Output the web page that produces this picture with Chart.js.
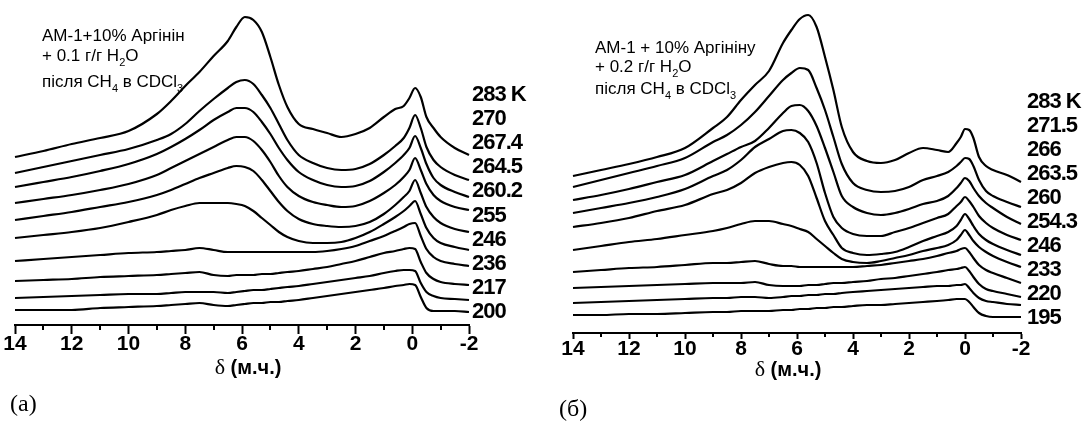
<!DOCTYPE html>
<html>
<head>
<meta charset="utf-8">
<script src="https://cdn.jsdelivr.net/npm/chart.js@4"></script>
<style>
  body { margin: 0; background: #fff; }
  #wrap { position: relative; width: 1082px; height: 421px; }
  #chartA { position: absolute; left: 0; top: 0; }
  #chartB { position: absolute; left: 541px; top: 0; }
</style>
</head>
<body>
<div id="wrap">
  <canvas id="chartA" width="541" height="421"></canvas>
  <canvas id="chartB" width="541" height="421"></canvas>
</div>
<script>
// ---- panel (а): АМ-1 + 10% аргінін + 0.1 г/г H2O ----
const ppmA = [14, 13, 12, 11, 10, 9, 8.5, 8, 7.5, 7, 6.5, 6.2, 5.9, 5.6, 5.3, 5, 4.7, 4.4, 4, 3.5,
  3, 2.5, 2, 1.5, 1, 0.6, 0.3, 0.1, -0.1, -0.3, -0.5, -0.75, -1, -1.5, -2];
const tempsA = ["283 K", "270", "267.4", "264.5", "260.2", "255", "246", "236", "217", "200"];

// stacked spectra, intensity in arbitrary units (offset included)
const a283 = [168, 174, 181, 187, 194, 211, 224, 239, 253, 269, 284, 298, 308, 305, 293, 268, 240, 218, 201, 196,
  192, 188, 191, 197, 208, 216, 219, 227, 237, 228, 208, 197, 188, 177, 170];
const a270 = [152, 158, 164, 170, 176, 185, 191, 201, 214, 226, 237, 243, 245, 241, 230, 217, 201, 185, 170, 162,
  157, 155, 156, 161, 170, 179, 187, 197, 210, 197, 178, 165, 158, 150, 145];
const a267 = [138, 143, 148, 154, 161, 171, 178, 186, 195, 205, 213, 217, 217, 213, 203, 191, 177, 165, 153, 145,
  140, 138, 139, 144, 153, 162, 170, 177, 189, 177, 161, 147, 140, 133, 128];
const a264 = [122, 126, 130, 135, 141, 150, 157, 164, 171, 178, 185, 188, 188, 184, 175, 163, 149, 138, 129, 123,
  120, 118, 119, 124, 132, 140, 148, 155, 167, 155, 141, 130, 124, 118, 115];
const a260 = [105, 109, 113, 118, 123, 130, 135, 141, 147, 152, 157, 159, 158, 154, 145, 134, 123, 114, 106, 101,
  99, 98, 99, 103, 111, 120, 128, 134, 145, 132, 118, 108, 102, 96, 93];
const a255 = [87, 90, 93, 97, 103, 110, 115, 119, 122, 122, 122, 121, 119, 114, 107, 100, 93, 88, 84, 82,
  82, 83, 87, 93, 101, 108, 114, 119, 124, 111, 97, 87, 82, 78, 75];
const a246 = [64, 66, 68, 70, 72, 73, 74, 75, 77, 75, 73, 73, 73, 73, 73, 73, 73, 73, 73, 73,
  74, 76, 79, 84, 89, 94, 98, 101, 102, 89, 76, 68, 64, 61, 59];
const a236 = [44, 45, 46, 48, 49, 50, 51, 52, 53, 50, 49, 50, 50, 50, 51, 51, 52, 53, 54, 56,
  58, 61, 64, 68, 72, 74, 76, 77, 76, 63, 52, 46, 43, 41, 40];
const a217 = [27, 28, 29, 30, 31, 31, 32, 33, 33, 33, 32, 33, 34, 35, 35, 36, 37, 38, 39, 41,
  43, 45, 47, 49, 52, 54, 55, 55, 54, 42, 33, 29, 27, 26, 25];
const a200 = [15, 15, 15, 17, 18, 19, 20, 21, 22, 20, 19, 20, 21, 22, 22, 23, 23, 24, 25, 27,
  29, 31, 33, 35, 37, 39, 40, 41, 40, 28, 17, 14, 14, 14, 13];

// ---- panel (б): АМ-1 + 10% аргініну + 0.2 г/г H2O ----
const ppmB = [14, 13, 12, 11, 10, 9, 8.5, 8, 7.5, 7, 6.5, 6.2, 5.9, 5.6, 5.3, 5, 4.7, 4.4, 4, 3.5,
  3, 2.5, 2, 1.5, 1, 0.6, 0.3, 0.15, 0, -0.15, -0.3, -0.5, -0.75, -1, -1.5, -2];
const tempsB = ["283 K", "271.5", "266", "263.5", "260", "254.3", "246", "233", "220", "195"];

const b283 = [157, 163, 169, 176, 185, 205, 216, 233, 248, 262, 290, 303, 314, 318, 306, 276, 243, 206, 181, 172,
  170, 173, 180, 185, 183, 181, 190, 196, 204, 203, 195, 176, 167, 163, 158, 151];
const b271 = [146, 153, 160, 167, 175, 191, 198, 208, 221, 237, 253, 260, 265, 263, 245, 223, 196, 169, 150, 143,
  141, 142, 146, 153, 157, 161, 167, 171, 175, 174, 167, 153, 142, 137, 131, 126];
const b266 = [133, 138, 144, 151, 158, 172, 179, 186, 192, 205, 220, 227, 228, 222, 207, 185, 161, 137, 126, 120,
  118, 120, 124, 129, 132, 137, 145, 150, 155, 152, 145, 137, 130, 125, 116, 109];
const b263 = [120, 125, 130, 136, 144, 157, 163, 173, 186, 194, 202, 203, 200, 191, 170, 140, 116, 105, 99, 97,
  97, 101, 105, 110, 115, 119, 127, 131, 136, 132, 126, 117, 110, 105, 98, 93];
const b260 = [106, 110, 115, 122, 128, 139, 143, 150, 160, 166, 170, 171, 168, 157, 135, 112, 98, 85, 80, 78,
  79, 81, 86, 92, 97, 101, 107, 113, 119, 114, 107, 99, 93, 89, 83, 78];
const b254 = [83, 87, 91, 94, 98, 102, 105, 109, 112, 112, 109, 107, 104, 101, 94, 87, 80, 74, 71, 70,
  72, 75, 78, 82, 85, 88, 93, 98, 103, 98, 92, 86, 81, 77, 71, 66];
const b246 = [61, 63, 65, 66, 68, 70, 70, 71, 72, 69, 67, 67, 66, 66, 66, 66, 66, 66, 66, 67,
  68, 70, 72, 74, 77, 80, 82, 84, 85, 81, 75, 68, 63, 60, 55, 50];
const b233 = [45, 46, 47, 48, 49, 50, 50, 50, 51, 48, 47, 47, 47, 48, 48, 49, 50, 50, 51, 52,
  54, 55, 57, 59, 61, 63, 64, 65, 66, 62, 56, 49, 44, 42, 39, 36];
const b220 = [30, 31, 32, 33, 34, 35, 35, 36, 36, 35, 36, 37, 37, 38, 38, 39, 39, 40, 41, 42,
  43, 44, 45, 46, 47, 47, 48, 48, 49, 45, 40, 35, 32, 31, 29, 28];
const b195 = [18, 18, 19, 19, 20, 21, 21, 22, 22, 22, 23, 23, 24, 24, 25, 25, 26, 26, 27, 28,
  28, 29, 30, 31, 32, 33, 34, 34, 34, 31, 26, 20, 17, 16, 16, 16];

const SANS = '"Liberation Sans", Arial, sans-serif';
const SERIF = '"Liberation Serif", "Times New Roman", serif';

// text with subscripts: parts = [[text, isSub], ...]
function drawRich(ctx, parts, x, y, size) {
  for (const [txt, sub] of parts) {
    ctx.font = (sub ? Math.round(size * 0.65) : size) + 'px ' + SANS;
    ctx.fillText(txt, x, sub ? y + size * 0.3 : y);
    x += ctx.measureText(txt).width;
  }
}

// labels, minor ticks and axis caption
const panelText = {
  id: 'panelText',
  afterDraw(chart, args, o) {
    const ctx = chart.ctx;
    const xs = chart.scales.x;
    ctx.save();
    ctx.fillStyle = '#000';
    ctx.strokeStyle = '#000';

    // minor ticks at odd ppm values
    ctx.lineWidth = 2;
    for (let v = -1; v <= 13; v += 2) {
      const px = Math.round(xs.getPixelForValue(v));
      ctx.beginPath();
      ctx.moveTo(px, xs.top);
      ctx.lineTo(px, xs.top + o.minorTick);
      ctx.stroke();
    }

    // temperature column
    ctx.textAlign = 'left';
    ctx.textBaseline = 'middle';
    ctx.font = 'bold 22px ' + SANS;
    ctx.letterSpacing = '-1px';
    o.temps.forEach((t, i) => ctx.fillText(t, o.tempX, o.tempY + i * o.tempStep));
    ctx.letterSpacing = '0px';

    // sample description
    ctx.textBaseline = 'alphabetic';
    o.note.forEach((parts, i) => drawRich(ctx, parts, o.noteX, o.noteY[i], 17));

    // axis caption: δ (м.ч.)
    ctx.font = '22px ' + SERIF;
    const wd = ctx.measureText('δ ').width;
    ctx.font = 'bold 20px ' + SANS;
    const wr = ctx.measureText('(м.ч.)').width;
    const x0 = o.capX - (wd + wr) / 2;
    ctx.font = '22px ' + SERIF;
    ctx.fillText('δ ', x0, o.capY);
    ctx.font = 'bold 20px ' + SANS;
    ctx.fillText('(м.ч.)', x0 + wd, o.capY);

    // panel letter
    ctx.font = '24px ' + SERIF;
    ctx.fillText(o.letter, o.letterX, o.letterY);
    ctx.restore();
  }
};

function makePanel(id, ppm, series, cfg) {
  return new Chart(document.getElementById(id), {
    type: 'line',
    data: {
      datasets: series.map(vals => ({
        data: ppm.map((p, j) => ({ x: p, y: vals[j] })),
        borderColor: '#000',
        borderWidth: 2.2,
        pointRadius: 0,
        fill: false,
        cubicInterpolationMode: 'monotone',
        clip: false
      }))
    },
    options: {
      responsive: false,
      animation: false,
      layout: { padding: { left: cfg.left, right: cfg.right, top: 0, bottom: 0 } },
      plugins: {
        legend: { display: false },
        tooltip: { enabled: false },
        panelText: cfg.text
      },
      scales: {
        x: {
          type: 'linear',
          min: -2,
          max: 14,
          reverse: true,
          afterFit: s => { s.height = cfg.axisH; },
          border: { display: true, color: '#000', width: 2 },
          grid: {
            drawOnChartArea: false,
            tickLength: cfg.majorTick,
            tickWidth: 2,
            tickColor: c => (c.tick && c.tick.value % 2 === 0) ? '#000' : 'rgba(0,0,0,0)'
          },
          ticks: {
            stepSize: 1,
            autoSkip: false,
            maxRotation: 0,
            padding: cfg.tickPad,
            color: '#000',
            font: { family: SANS, size: 21, weight: 'bold', lineHeight: 1 },
            callback: v => (v % 2 === 0 ? String(v) : '')
          }
        },
        y: { display: false, min: 0, max: cfg.yMax }
      }
    },
    plugins: [panelText]
  });
}

makePanel('chartA', ppmA, [a283, a270, a267, a264, a260, a255, a246, a236, a217, a200], {
  left: 15, right: 72, axisH: 96, yMax: 325, majorTick: 9, tickPad: 0,
  text: {
    minorTick: 5,
    temps: tempsA, tempX: 472, tempY: 95, tempStep: 24.1,
    noteX: 42, noteY: [41, 61, 87],
    note: [
      [['АМ-1+10% Аргінін']],
      [['+ 0.1 г/г H'], ['2', true], ['O']],
      [['після CH'], ['4', true], [' в CDCl'], ['3', true]]
    ],
    capX: 248, capY: 374,
    letter: '(а)', letterX: 10, letterY: 411
  }
});

makePanel('chartB', ppmB, [b283, b271, b266, b263, b260, b254, b246, b233, b220, b195], {
  left: 32, right: 61, axisH: 88, yMax: 333, majorTick: 6, tickPad: 0,
  text: {
    minorTick: 4,
    temps: tempsB, tempX: 486, tempY: 102, tempStep: 24,
    noteX: 54, noteY: [53, 72, 94],
    note: [
      [['АМ-1 + 10% Аргініну']],
      [['+ 0.2 г/г H'], ['2', true], ['O']],
      [['після CH'], ['4', true], [' в CDCl'], ['3', true]]
    ],
    capX: 247, capY: 376,
    letter: '(б)', letterX: 18, letterY: 416
  }
});
</script>
</body>
</html>
